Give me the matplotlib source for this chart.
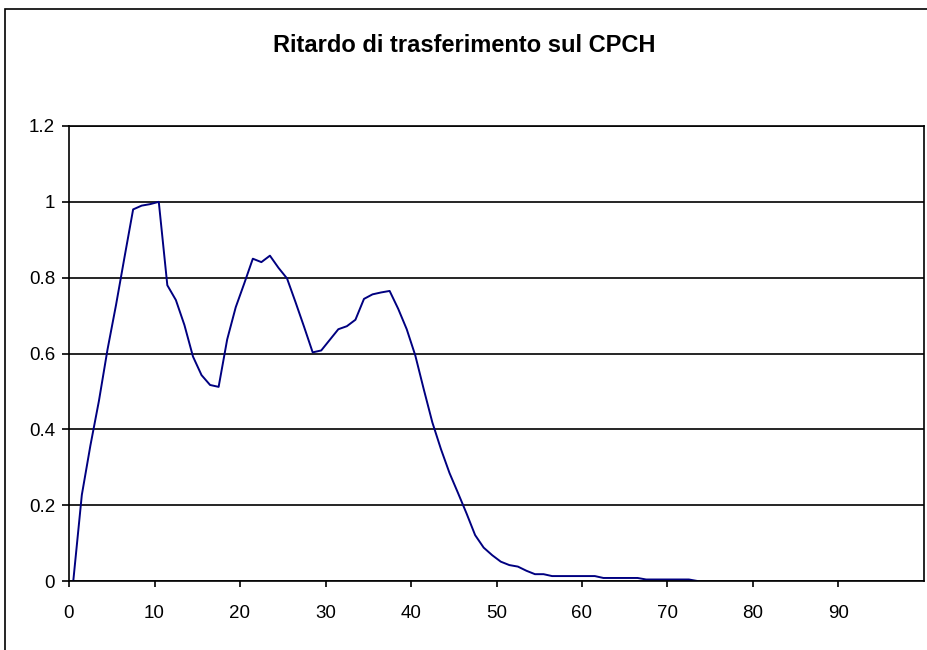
import matplotlib.pyplot as plt
import matplotlib.patches as patches
import numpy as np

plt.rcParams['font.family'] = ['Liberation Sans', 'DejaVu Sans']

# delay distribution values, one per category 0..73
delay = np.arange(74)
prob = [0, 0.227, 0.357, 0.475, 0.61, 0.728, 0.855, 0.98, 0.99, 0.994,
        1.0, 0.78, 0.741, 0.675, 0.592, 0.543, 0.517, 0.512, 0.637, 0.722,
        0.785, 0.85, 0.841, 0.858, 0.826, 0.798, 0.735, 0.67, 0.603, 0.608,
        0.636, 0.664, 0.672, 0.689, 0.744, 0.756, 0.761, 0.765, 0.718, 0.664,
        0.595, 0.505, 0.418, 0.348, 0.285, 0.232, 0.178, 0.121, 0.088, 0.068,
        0.051, 0.042, 0.038, 0.027, 0.018, 0.018, 0.013, 0.013, 0.013, 0.013,
        0.013, 0.013, 0.008, 0.008, 0.008, 0.008, 0.008, 0.004, 0.004, 0.004,
        0.004, 0.004, 0.004, 0]
xtick_labels = [str(v) for v in range(0, 100, 10)]
ytick_vals = [0, 0.2, 0.4, 0.6, 0.8, 1, 1.2]
ytick_labels = ['0', '0.2', '0.4', '0.6', '0.8', '1', '1.2']
title = 'Ritardo di trasferimento sul CPCH'

W, H = 928, 650
fig = plt.figure(figsize=(W / 100, H / 100), dpi=100)
fig.patch.set_facecolor('white')

# outer chart border (only top and left are visible in the crop)
fig.add_artist(patches.Rectangle((5 / W, -0.1), 1.2, 1.1 - 9 / H,
                                 transform=fig.transFigure, fill=False,
                                 edgecolor='black', linewidth=1.2))

ax = fig.add_axes([69 / W, 1 - 581 / H, (924 - 69) / W, (581 - 126) / H])
ax.plot(delay, prob, color='#000080', linewidth=1.4)

ax.set_xlim(-0.5, 99.5)
ax.set_ylim(0, 1.2)
ax.set_xticks(np.arange(0, 100, 10) - 0.5)
ax.set_xticklabels(xtick_labels)
ax.set_yticks(ytick_vals)
ax.set_yticklabels(ytick_labels)

ax.yaxis.grid(True, color='black', linewidth=1.2)
ax.set_axisbelow(True)
for s in ax.spines.values():
    s.set_color('black')
    s.set_linewidth(1.2)

ax.tick_params(axis='y', direction='out', length=5, width=1.2, pad=5,
               labelsize=13.5)
ax.tick_params(axis='x', direction='out', length=4, width=1.2, pad=13,
               labelsize=13.5)

fig.text(464 / W, 1 - 45 / H, title, ha='center', va='center',
         fontsize=17, fontweight='bold')

fig.savefig('out.png', dpi=100)
